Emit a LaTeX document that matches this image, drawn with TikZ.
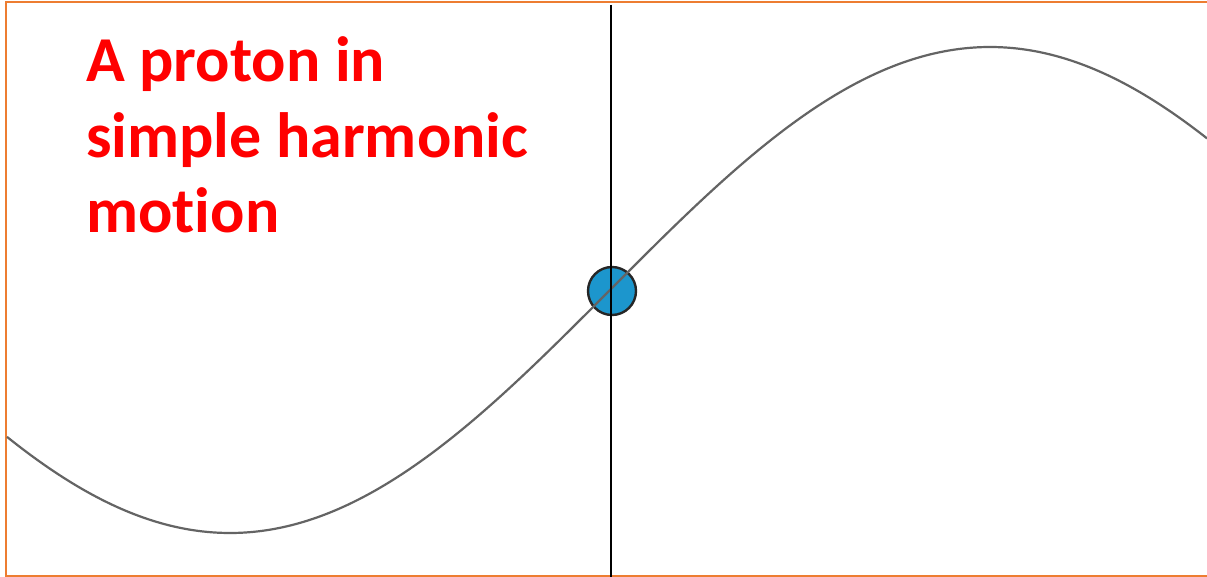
\documentclass[tikz,border=0pt]{standalone}
\usepackage{fontspec}
\newfontfamily\titlefont[Ligatures=NoCommon]{Carlito}
\definecolor{frameorange}{RGB}{237,125,49}
\definecolor{protonblue}{RGB}{28,150,205}
\definecolor{curvegray}{RGB}{100,100,100}
\definecolor{titlered}{RGB}{255,0,0}
\tikzset{
  frame/.style={draw=frameorange, line width=2.5pt},
  wave/.style={draw=curvegray, line width=2.2pt},
  axisline/.style={draw=black, line width=1.4pt},
  proton/.style={circle, draw=black!85, line width=2.4pt, fill=protonblue, minimum size=48pt, inner sep=0pt},
  title/.style={anchor=base west, inner sep=0pt, text=titlered, font=\titlefont\bfseries\fontsize{64}{76}\selectfont}
}
\begin{document}
\begin{tikzpicture}[x=1pt,y=-1pt]
\useasboundingbox (0,0) rectangle (1207,577);
\fill[white] (0,0) rectangle (1207,577);
\draw[frame] (1207,2) -- (6,2) -- (6,576) -- (1207,576);
\node[title] (t1) at (86,82) {A proton in};
\node[title] (t2) at (86,158) {simple harmonic};
\node[title] (t3) at (86,233) {motion};
\node[proton] (p) at (612,291) {};
\coordinate (vtop) at (611,5);
\coordinate (vbot) at (611,577);
\draw[wave] plot[domain=7:1207, samples=240, smooth] (\x, {290-243*sin((\x-610)/1520*360)});
\draw[axisline] (vtop) -- (vbot);
\end{tikzpicture}
\end{document}
